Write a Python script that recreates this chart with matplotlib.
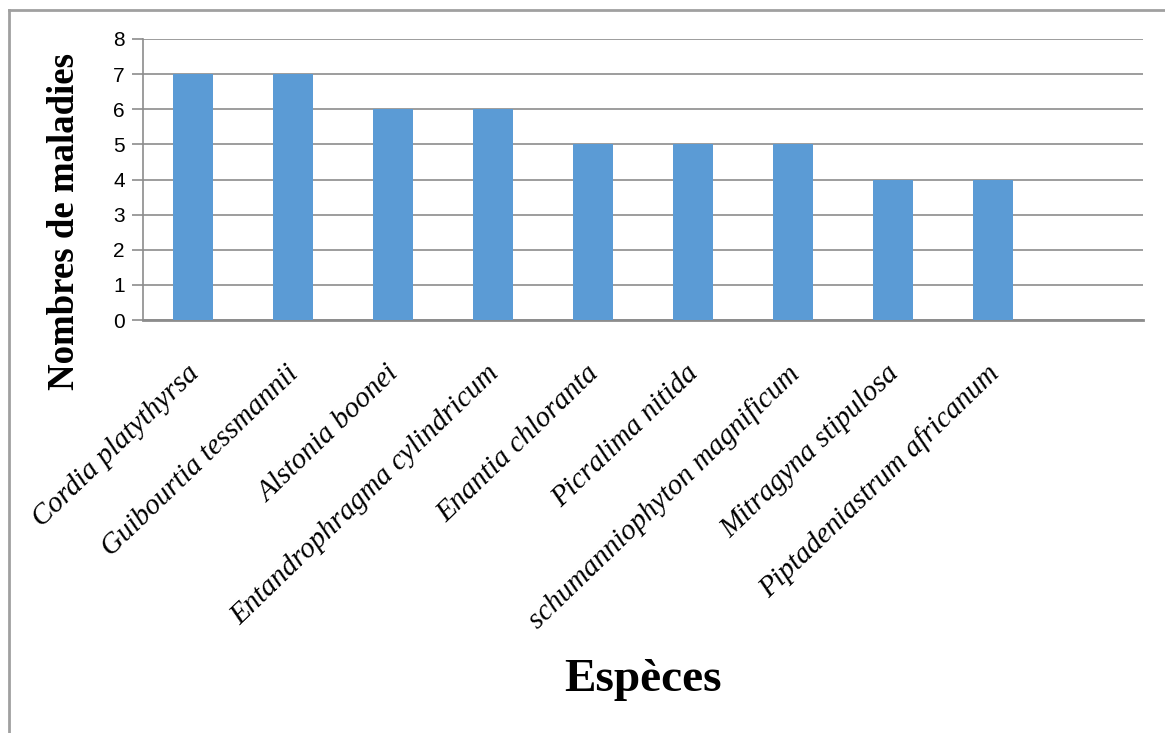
import matplotlib.pyplot as plt
import matplotlib.transforms as mtransforms
from matplotlib.lines import Line2D

especes = ["Cordia platythyrsa", "Guibourtia tessmannii", "Alstonia boonei",
           "Entandrophragma cylindricum", "Enantia chloranta", "Picralima nitida",
           "schumanniophyton magnificum", "Mitragyna stipulosa",
           "Piptadeniastrum africanum", ""]
maladies = [7, 7, 6, 6, 5, 5, 5, 4, 4, 0]

fig = plt.figure(figsize=(11.65, 7.33), dpi=100)
ax = fig.add_axes([0.1227, 0.5634, 0.8584, 0.3834])

x = list(range(len(especes)))
ax.bar(x[:9], maladies[:9], width=0.4, color="#5B9BD5", zorder=3)

ax.set_xlim(-0.5, len(especes) - 0.5)
ax.set_ylim(0, 8)
ax.set_yticks(range(0, 9))
ax.yaxis.grid(True, color="#8c8c8c", linewidth=1.2, zorder=0)
ax.tick_params(axis="y", length=8, color="#8c8c8c", width=1.2, labelsize=15, pad=5)
for t in ax.get_yticklabels():
    t.set_fontfamily("Liberation Sans")

ax.set_xticks(x)
ax.set_xticklabels(especes, rotation=44, ha="right", rotation_mode="anchor",
                   fontfamily="Liberation Serif", fontstyle="italic", fontsize=21)
ax.tick_params(axis="x", length=0, pad=29)
shift = mtransforms.ScaledTranslation(-7 / 100, 0, fig.dpi_scale_trans)
for t in ax.get_xticklabels():
    t.set_transform(t.get_transform() + shift)

for s in ["top", "right"]:
    ax.spines[s].set_visible(False)
ax.spines["left"].set_color("#8c8c8c")
ax.spines["bottom"].set_color("#8c8c8c")
ax.spines["left"].set_linewidth(1.2)
ax.spines["bottom"].set_linewidth(2)

ax.set_ylabel("Nombres de maladies", fontfamily="Liberation Serif",
              fontweight="bold", fontsize=26.5)
ax.yaxis.set_label_coords(-0.061, 0.352)
ax.set_xlabel("Espèces", fontfamily="Liberation Serif", fontweight="bold", fontsize=34)
ax.xaxis.set_label_coords(0.5, -1.205)

# cadre du graphique
fig.add_artist(Line2D([9 / 1165, 9 / 1165], [0, 1 - 10 / 733], color="#a0a0a0", linewidth=2))
fig.add_artist(Line2D([9 / 1165, 1], [1 - 10 / 733, 1 - 10 / 733], color="#a0a0a0", linewidth=2))

fig.savefig("out.png", dpi=100)
